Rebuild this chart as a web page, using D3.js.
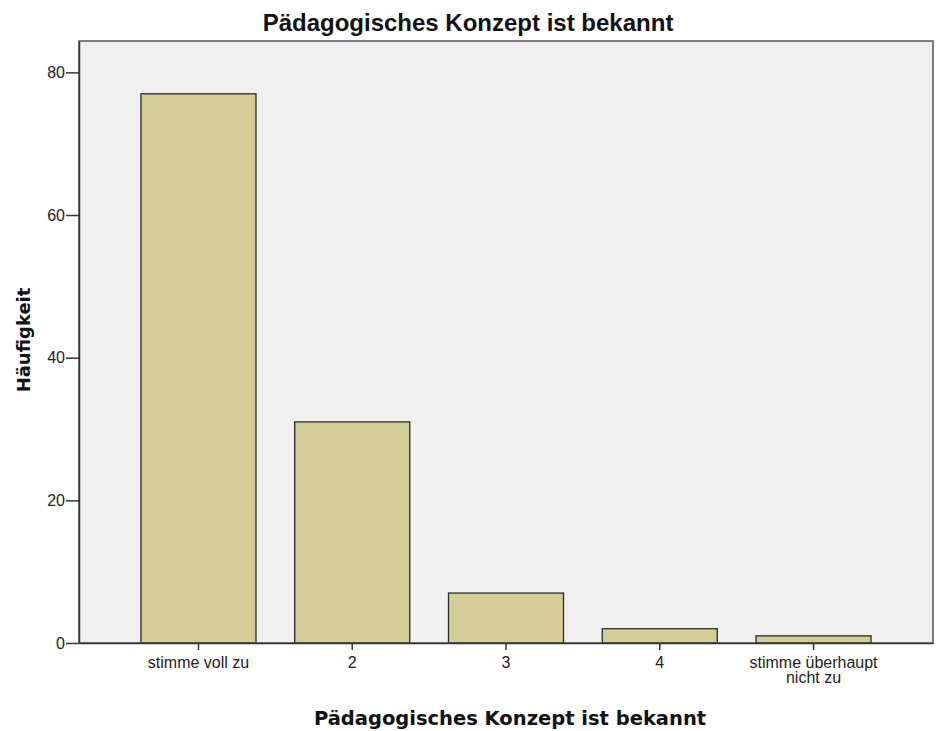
<!DOCTYPE html>
<html>
<head>
<meta charset="utf-8">
<script src="https://cdn.jsdelivr.net/npm/d3@7"></script>
<style>
  body { margin: 0; background: #fff; }
  .tick text { font-family: "Liberation Sans", Arial, sans-serif; font-size: 16px; fill: #222; }
</style>
</head>
<body>
<div class="chart"></div>
<script>
// chart data
var categories = ["stimme voll zu", "2", "3", "4", "stimme überhaupt nicht zu"];
var tickLines = [["stimme voll zu"], ["2"], ["3"], ["4"], ["stimme überhaupt", "nicht zu"]];
var counts = [77, 31, 7, 2, 1];
var yTicks = [0, 20, 40, 60, 80];

var svgWidth = 938;
var svgHeight = 731;

var margin = { top: 41, right: 5, bottom: 88, left: 79 };
var width = svgWidth - margin.left - margin.right;
var height = svgHeight - margin.top - margin.bottom;

var svg = d3.select(".chart")
  .append("svg")
  .attr("width", svgWidth)
  .attr("height", svgHeight);

var chartGroup = svg.append("g")
  .attr("transform", `translate(${margin.left}, ${margin.top})`);

// plot background
chartGroup.append("rect")
  .attr("width", width)
  .attr("height", height)
  .attr("fill", "#f0f0f0");

var xScale = d3.scaleBand()
  .domain(categories)
  .range([0, width])
  .paddingInner(0.252)
  .paddingOuter(0.403);

var yScale = d3.scaleLinear()
  .domain([0, 84.4])
  .range([height, 0]);

// bars
chartGroup.selectAll("rect.bar")
  .data(counts)
  .enter()
  .append("rect")
  .attr("class", "bar")
  .attr("x", (d, i) => xScale(categories[i]))
  .attr("y", d => yScale(d))
  .attr("width", xScale.bandwidth())
  .attr("height", d => height - yScale(d))
  .attr("fill", "#d3ce97")
  .attr("stroke", "#2a2a2a")
  .attr("stroke-width", 1.3);

// frame
chartGroup.append("rect")
  .attr("width", width)
  .attr("height", height)
  .attr("fill", "none")
  .attr("stroke", "#555")
  .attr("stroke-width", 1.5);

// y axis
var leftAxis = d3.axisLeft(yScale).tickValues(yTicks).tickSize(13).tickSizeOuter(0).tickPadding(1);
var yAxis = chartGroup.append("g").call(leftAxis);
yAxis.select(".domain").attr("stroke", "#333").attr("stroke-width", 1.5);
yAxis.selectAll(".tick line").attr("stroke", "#333").attr("stroke-width", 1.5);

// x axis
var bottomAxis = d3.axisBottom(xScale).tickSize(7).tickSizeOuter(0).tickFormat("");
var xAxis = chartGroup.append("g")
  .attr("transform", `translate(0, ${height})`)
  .call(bottomAxis);
xAxis.select(".domain").attr("stroke", "#333").attr("stroke-width", 1.5);
xAxis.selectAll(".tick line").attr("stroke", "#333").attr("stroke-width", 1.5);
xAxis.selectAll(".tick text").remove();
xAxis.selectAll(".tick")
  .append("text")
  .attr("fill", "#222")
  .attr("text-anchor", "middle")
  .attr("y", 25)
  .each(function(d, i) {
    var t = d3.select(this);
    tickLines[i].forEach(function(line, j) {
      t.append("tspan").attr("x", 0).attr("dy", j === 0 ? 0 : 15).text(line);
    });
  });

// title
svg.append("text")
  .attr("x", 468)
  .attr("y", 31)
  .attr("text-anchor", "middle")
  .style("font-family", "'Liberation Sans', Arial, sans-serif")
  .style("font-weight", "bold")
  .style("font-size", "24px")
  .attr("fill", "#111")
  .text("Pädagogisches Konzept ist bekannt");

// x axis label
svg.append("text")
  .attr("x", margin.left + width / 2 + 4)
  .attr("y", 725)
  .attr("text-anchor", "middle")
  .style("font-family", "'DejaVu Sans', Verdana, sans-serif")
  .style("font-weight", "bold")
  .style("font-size", "19.5px")
  .attr("fill", "#111")
  .text("Pädagogisches Konzept ist bekannt");

// y axis label
svg.append("text")
  .attr("transform", "rotate(-90)")
  .attr("x", -340)
  .attr("y", 30)
  .attr("text-anchor", "middle")
  .style("font-family", "'DejaVu Sans', Verdana, sans-serif")
  .style("font-weight", "bold")
  .style("font-size", "18px")
  .attr("fill", "#111")
  .text("Häufigkeit");
</script>
</body>
</html>
